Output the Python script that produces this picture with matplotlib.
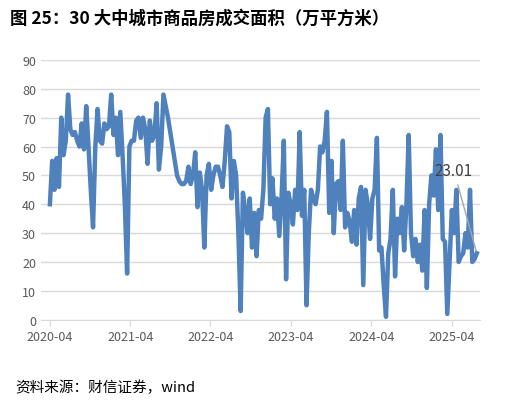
import matplotlib
matplotlib.use("Agg")
import matplotlib.pyplot as plt
import numpy as np
import pandas as pd

plt.rcParams['font.family'] = ['Noto Sans CJK SC', 'DejaVu Sans']

values = [40, 55, 45, 56, 46, 70, 57, 62, 78, 66, 64, 65, 62, 60, 68, 59, 74, 60, 45, 32, 60, 73, 62, 61, 68, 66, 67, 78, 64, 70, 57, 72, 57, 40, 16, 60, 62, 62, 69, 70, 63, 70, 66, 54, 69, 62, 64, 75, 52, 60, 78, 74, 70, 65, 60, 55, 50, 48, 47, 47, 48, 53, 47, 50, 58, 39, 51, 45, 25, 50, 54, 45, 50, 53, 53, 50, 46, 55, 67, 65, 42, 55, 50, 30, 3, 44, 38, 30, 42, 25, 37, 22, 38, 35, 45, 70, 73, 40, 49, 35, 42, 29, 42, 62, 14, 44, 40, 33, 45, 38, 65, 36, 45, 5, 30, 45, 42, 40, 45, 60, 58, 62, 72, 37, 55, 30, 47, 48, 38, 62, 32, 37, 34, 27, 38, 26, 42, 46, 12, 45, 40, 28, 42, 45, 63, 24, 25, 12, 1, 23, 28, 45, 15, 35, 30, 39, 24, 40, 64, 30, 22, 28, 20, 26, 17, 38, 11, 40, 50, 43, 59, 38, 64, 28, 27, 2, 20, 38, 30, 45, 20, 22, 23, 30, 25, 45, 20, 21, 23.01]
start = pd.Timestamp('2020-04-01')
end = pd.Timestamp('2025-07-25')
dates = pd.to_datetime(np.linspace(start.value, end.value, len(values)))
tick_labels = ['2020-04', '2021-04', '2022-04', '2023-04', '2024-04', '2025-04']
ticks = [pd.Timestamp(t + '-01') for t in tick_labels]

fig = plt.figure(figsize=(5.11, 4.06), dpi=100)
ax = fig.add_axes([0.08, 0.21, 0.86, 0.64])
ax.plot(dates, values, color='#4f81bd', lw=3.2)
ax.set_ylim(0, 90)
ax.set_yticks(range(0, 91, 10))
ax.set_xlim(pd.Timestamp('2020-02-20'), pd.Timestamp('2025-08-10'))
ax.set_xticks(ticks)
ax.set_xticklabels(tick_labels)
ax.tick_params(labelsize=9, colors='#595959', length=0)
ax.tick_params(axis='x', length=4, color='#d9d9d9', direction='out')
ax.grid(axis='y', color='#d9d9d9', lw=1)
for s in ['top', 'right', 'left']:
    ax.spines[s].set_visible(False)
ax.spines['bottom'].set_color('#d9d9d9')
ax.set_axisbelow(True)
ax.annotate('23.01', xy=(dates[-1], values[-1]), xytext=(pd.Timestamp('2025-01-15'), 50),
            fontsize=11, color='#404040',
            arrowprops=dict(arrowstyle='-', color='#a6a6a6', lw=1))
fig.text(0.02, 0.955, '图 25：30 大中城市商品房成交面积（万平方米）', fontsize=12.5, fontweight='bold', va='center')
fig.text(0.03, 0.045, '资料来源：财信证券，wind', fontsize=10.5, style='italic', va='center')
fig.savefig('out.png', dpi=100)
